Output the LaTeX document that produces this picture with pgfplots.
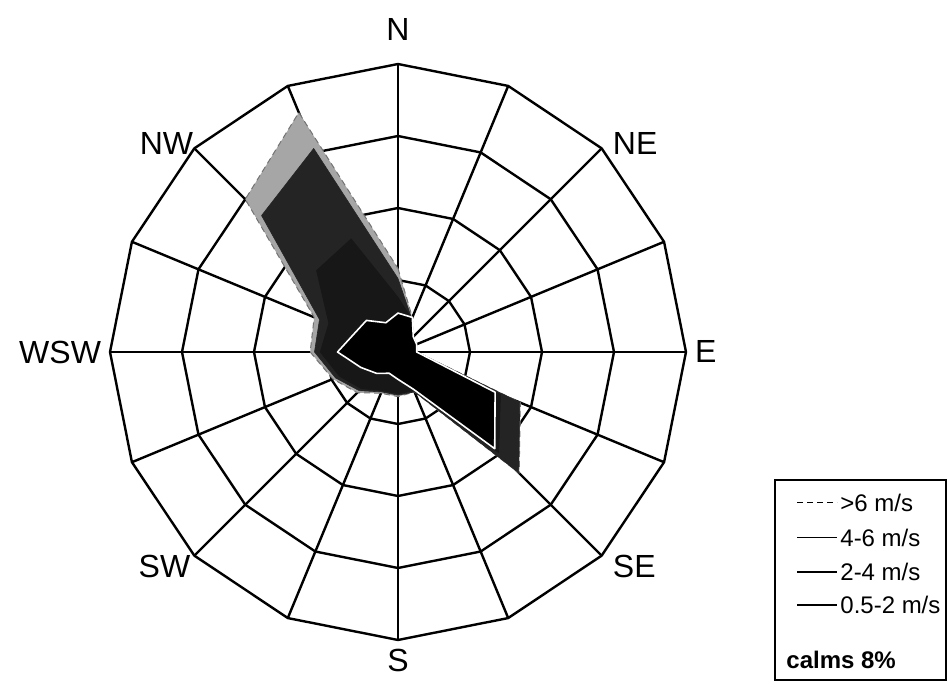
\documentclass[border=0pt]{standalone}
\usepackage{fontspec}
\setmainfont{Liberation Sans}
\usepackage{pgfplots}
\pgfplotsset{compat=1.18}
\begin{document}
\begin{tikzpicture}[x=1pt,y=1pt]
\useasboundingbox (0,0) rectangle (473.5,344.5);
\begin{axis}[at={(199pt,168.5pt)}, anchor=center, scale only axis,
  width=288pt, height=288pt, xmin=-20, xmax=20, ymin=-20, ymax=20,
  hide axis, clip=false,
  gridl/.style={black, line width=1.2pt, line join=round, no marks, data cs=polar},
  petal/.style={no marks, data cs=polar, line join=round}]
% rings
\addplot[gridl] coordinates {(90,5)(67.5,5)(45,5)(22.5,5)(0,5)(-22.5,5)(-45,5)(-67.5,5)(-90,5)(-112.5,5)(-135,5)(-157.5,5)(180,5)(157.5,5)(135,5)(112.5,5)(90,5)};
\addplot[gridl] coordinates {(90,10)(67.5,10)(45,10)(22.5,10)(0,10)(-22.5,10)(-45,10)(-67.5,10)(-90,10)(-112.5,10)(-135,10)(-157.5,10)(180,10)(157.5,10)(135,10)(112.5,10)(90,10)};
\addplot[gridl] coordinates {(90,15)(67.5,15)(45,15)(22.5,15)(0,15)(-22.5,15)(-45,15)(-67.5,15)(-90,15)(-112.5,15)(-135,15)(-157.5,15)(180,15)(157.5,15)(135,15)(112.5,15)(90,15)};
\addplot[gridl] coordinates {(90,20)(67.5,20)(45,20)(22.5,20)(0,20)(-22.5,20)(-45,20)(-67.5,20)(-90,20)(-112.5,20)(-135,20)(-157.5,20)(180,20)(157.5,20)(135,20)(112.5,20)(90,20)};
% spokes
\addplot[gridl] coordinates {(90,20)(-90,20)};
\addplot[gridl] coordinates {(67.5,20)(-112.5,20)};
\addplot[gridl] coordinates {(45,20)(-135,20)};
\addplot[gridl] coordinates {(22.5,20)(-157.5,20)};
\addplot[gridl] coordinates {(0,20)(180,20)};
\addplot[gridl] coordinates {(-22.5,20)(157.5,20)};
\addplot[gridl] coordinates {(-45,20)(135,20)};
\addplot[gridl] coordinates {(-67.5,20)(112.5,20)};
% >6 m/s
\addplot[petal, fill=black!35, draw=black!55, densely dashed, line width=0.5pt] coordinates {(90,5.8)(67.5,2.6)(45,1.5)(22.5,1.4)(0,1.3)(-22.5,9.2)(-45,11.9)(-67.5,3.0)(-90,3.1)(-112.5,3.1)(-135,4.0)(-157.5,4.9)(180,6.1)(157.5,6.3)(135,15.0)(112.5,18.0)} -- cycle;
% 4-6 m/s
\addplot[petal, fill=black!86, draw=black!86, line width=0.3pt] coordinates {(90,5.1)(67.5,2.5)(45,1.5)(22.5,1.4)(0,1.3)(-22.5,9.15)(-45,11.85)(-67.5,3.0)(-90,3.0)(-112.5,3.0)(-135,3.8)(-157.5,4.7)(180,5.8)(157.5,5.9)(135,13.4)(112.5,15.3)} -- cycle;
% 2-4 m/s
\addplot[petal, fill=black!91, draw=black!91, line width=0.3pt] coordinates {(90,3.8)(67.5,2.5)(45,1.5)(22.5,1.4)(0,1.3)(-22.5,7.7)(-45,9.9)(-67.5,2.9)(-90,2.9)(-112.5,2.9)(-135,3.6)(-157.5,4.4)(180,5.4)(157.5,5.2)(135,8.0)(112.5,8.5)} -- cycle;
% 0.5-2 m/s
\addplot[petal, fill=black, draw=white, line width=0.8pt] coordinates {(90,2.7)(67.5,2.6)(45,1.5)(22.5,1.4)(0,1.3)(-22.5,7.3)(-45,9.5)(-67.5,2.8)(-90,1.9)(-112.5,1.6)(-135,2.1)(-157.5,2.8)(180,4.2)(157.5,3.3)(135,3.1)(112.5,2.2)} -- cycle;
% direction labels
\begin{scope}[every node/.style={inner sep=0pt, font=\fontsize{16}{19}\selectfont}]
\node[anchor=south] at (axis cs:0,21.6) {N};
\node[anchor=west] at (axis cs:20.6,0) {E};
\node[anchor=north] at (axis cs:0,-20.6) {S};
\node[anchor=east] at (axis cs:-20.6,0) {WSW};
\node[anchor=south west] at (axis cs:14.9,13.7) {NE};
\node[anchor=south east] at (axis cs:-14.2,13.7) {NW};
\node[anchor=north west] at (axis cs:14.9,-14.1) {SE};
\node[anchor=north east] at (axis cs:-14.4,-14.1) {SW};
\end{scope}
\end{axis}
% legend
\draw[line width=0.8pt] (387.5,4.5) rectangle (473,104.5);
\begin{scope}[every node/.style={inner sep=0pt, anchor=west, font=\fontsize{12}{14}\selectfont}]
\draw[densely dashed, line width=0.5pt] (398.5,93) -- (418.5,93);
\node at (420,93) {>6 m/s};
\draw[line width=0.5pt] (398.5,75.5) -- (418.5,75.5);
\node at (420,75.5) {4-6 m/s};
\draw[line width=0.8pt] (398.5,58.5) -- (418.5,58.5);
\node at (420,58.5) {2-4 m/s};
\draw[line width=1.2pt] (398.5,42) -- (418.5,42);
\node at (420,42) {0.5-2 m/s};
\node at (393,14.5) {\bfseries calms 8\%};
\end{scope}
\end{tikzpicture}
\end{document}
